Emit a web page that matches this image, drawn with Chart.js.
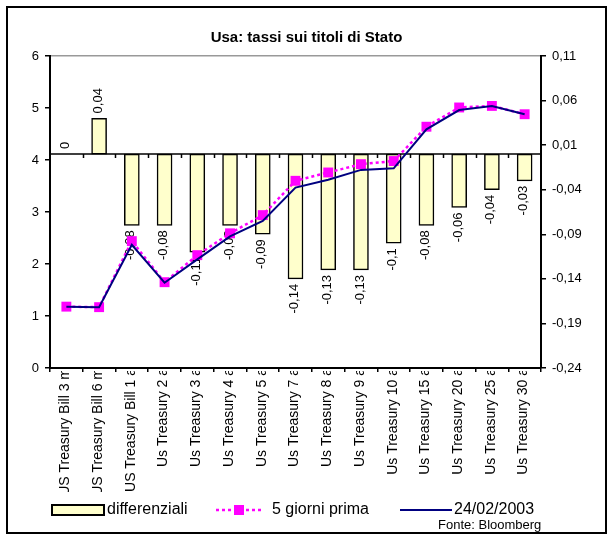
<!DOCTYPE html>
<html>
<head>
<meta charset="utf-8">
<script src="https://cdn.jsdelivr.net/npm/chart.js@4"></script>
<style>
  html, body { margin: 0; padding: 0; background: #ffffff; }
  canvas { display: block; }
</style>
</head>
<body>
<canvas id="c" width="613" height="540"></canvas>
<script>
// Titoli di Stato USA: scadenze
const categories = [
  "US Treasury Bill 3 m", "US Treasury Bill 6 m", "US Treasury Bill 1 a",
  "Us Treasury 2 a", "Us Treasury 3 a", "Us Treasury 4 a", "Us Treasury 5 a",
  "Us Treasury 7 a", "Us Treasury 8 a", "Us Treasury 9 a", "Us Treasury 10 a",
  "Us Treasury 15 a", "Us Treasury 20 a", "Us Treasury 25 a", "Us Treasury 30 a"
];
// differenziali (asse destro)
const differenziali = [0, 0.04, -0.08, -0.08, -0.11, -0.08, -0.09, -0.14, -0.13, -0.13, -0.1, -0.08, -0.06, -0.04, -0.03];
// rendimenti 5 giorni prima (asse sinistro)
const cinqueGiorniPrima = [1.18, 1.17, 2.44, 1.65, 2.17, 2.59, 2.94, 3.60, 3.76, 3.92, 3.98, 4.64, 5.01, 5.04, 4.88];
// rendimenti al 24/02/2003 (asse sinistro)
const rendimenti240203 = [1.18, 1.17, 2.37, 1.64, 2.09, 2.53, 2.83, 3.47, 3.62, 3.81, 3.84, 4.59, 4.96, 5.04, 4.88];
// tacche degli assi
const leftTicks = { min: 0, max: 6, step: 1 };
const rightTicks = { min: -0.24, max: 0.11, step: 0.05 };

const FONT = "'Liberation Sans', Arial, sans-serif";
const fmt = v => String(Math.round(v * 100) / 100).replace('.', ',');

const decorations = {
  id: 'decorations',
  afterDatasetDraw(chart, args) {
    if (args.index !== 0) return;
    const ctx = chart.ctx;
    const area = chart.chartArea;
    const x = chart.scales.x;
    const y1 = chart.scales.y1;
    const zeroY = y1.getPixelForValue(0);
    ctx.save();
    // etichette dei differenziali, ruotate
    ctx.font = '13px ' + FONT;
    ctx.fillStyle = '#000';
    ctx.textBaseline = 'middle';
    differenziali.forEach((v, i) => {
      const px = x.getPixelForValue(i);
      const py = y1.getPixelForValue(v);
      ctx.save();
      ctx.translate(px - 1, v >= 0 ? py - 5 : py + 5);
      ctx.rotate(-Math.PI / 2);
      ctx.textAlign = v >= 0 ? 'left' : 'right';
      ctx.fillText(fmt(v), 0, 0);
      ctx.restore();
    });
    // asse delle categorie sullo zero dell'asse secondario
    ctx.strokeStyle = '#000';
    ctx.lineWidth = 1.5;
    ctx.beginPath();
    ctx.moveTo(area.left, zeroY);
    ctx.lineTo(area.right, zeroY);
    const n = categories.length;
    const w = (area.right - area.left) / n;
    for (let i = 1; i < n; i++) {
      const tx = Math.round(area.left + i * w) + 0.5;
      ctx.moveTo(tx, zeroY);
      ctx.lineTo(tx, zeroY + 4);
    }
    ctx.stroke();
    ctx.restore();
  },
  afterDraw(chart) {
    const ctx = chart.ctx;
    const area = chart.chartArea;
    const x = chart.scales.x;
    ctx.save();
    // etichette delle scadenze, ruotate e ritagliate
    ctx.save();
    ctx.beginPath();
    ctx.rect(0, area.bottom + 3, chart.width, 121);
    ctx.clip();
    ctx.font = '14px ' + FONT;
    ctx.fillStyle = '#000';
    ctx.textBaseline = 'middle';
    ctx.textAlign = 'right';
    categories.forEach((c, i) => {
      ctx.save();
      ctx.translate(x.getPixelForValue(i) - 1, area.bottom);
      ctx.rotate(-Math.PI / 2);
      ctx.fillText(c, 0, 0);
      ctx.restore();
    });
    ctx.restore();

    // legenda
    const ly = 510;
    ctx.font = '16px ' + FONT;
    ctx.textBaseline = 'middle';
    ctx.textAlign = 'left';
    ctx.fillStyle = '#FFFFCC';
    ctx.fillRect(52, 505, 52, 10);
    ctx.strokeStyle = '#000';
    ctx.lineWidth = 2;
    ctx.strokeRect(52, 505, 52, 10);
    ctx.fillStyle = '#000';
    ctx.fillText('differenziali', 107, ly);

    ctx.strokeStyle = '#FF00FF';
    ctx.lineWidth = 2.5;
    ctx.setLineDash([3, 3]);
    ctx.beginPath();
    ctx.moveTo(216, ly);
    ctx.lineTo(262, ly);
    ctx.stroke();
    ctx.setLineDash([]);
    ctx.fillStyle = '#FF00FF';
    ctx.fillRect(234, ly - 5, 10, 10);
    ctx.fillStyle = '#000';
    ctx.fillText('5 giorni prima', 272, ly);

    ctx.strokeStyle = '#000080';
    ctx.lineWidth = 2;
    ctx.beginPath();
    ctx.moveTo(400, ly);
    ctx.lineTo(452, ly);
    ctx.stroke();
    ctx.fillStyle = '#000';
    ctx.fillText('24/02/2003', 454, ly);

    ctx.font = '13px ' + FONT;
    ctx.fillText('Fonte: Bloomberg', 438, 525);

    // cornice esterna
    ctx.strokeStyle = '#000';
    ctx.lineWidth = 2;
    ctx.strokeRect(7, 7, chart.width - 14, chart.height - 14);
    ctx.restore();
  }
};

new Chart(document.getElementById('c'), {
  data: {
    labels: categories,
    datasets: [
      {
        type: 'bar',
        label: 'differenziali',
        data: differenziali,
        yAxisID: 'y1',
        backgroundColor: '#FFFFCC',
        borderColor: '#000000',
        borderWidth: 1.5,
        borderSkipped: false,
        barThickness: 15,
        order: 2
      },
      {
        type: 'line',
        label: '5 giorni prima',
        data: cinqueGiorniPrima,
        yAxisID: 'y',
        borderColor: '#FF00FF',
        borderWidth: 2.5,
        borderDash: [3, 3],
        pointStyle: 'rect',
        pointRadius: 7,
        pointBackgroundColor: '#FF00FF',
        pointBorderColor: '#FF00FF',
        pointBorderWidth: 0,
        tension: 0,
        fill: false,
        order: 1
      },
      {
        type: 'line',
        label: '24/02/2003',
        data: rendimenti240203,
        yAxisID: 'y',
        borderColor: '#000080',
        borderWidth: 2,
        pointRadius: 0,
        tension: 0,
        fill: false,
        order: 0
      }
    ]
  },
  options: {
    responsive: false,
    animation: false,
    devicePixelRatio: 1,
    layout: { padding: 0 },
    plugins: {
      legend: { display: false },
      tooltip: { enabled: false },
      title: {
        display: true,
        text: 'Usa: tassi sui titoli di Stato',
        color: '#000',
        font: { family: FONT, size: 15, weight: 'bold' },
        padding: { top: 29, bottom: 9 }
      }
    },
    scales: {
      x: {
        offset: true,
        grid: { display: true, offset: true, drawOnChartArea: false, color: '#000', tickLength: 4, lineWidth: 1.5 },
        border: { display: true, color: '#000', width: 2 },
        ticks: { display: false },
        afterFit(scale) { scale.height = 172; }
      },
      y: {
        position: 'left',
        min: leftTicks.min,
        max: leftTicks.max,
        ticks: { stepSize: leftTicks.step, color: '#000', font: { family: FONT, size: 13 }, padding: 6 },
        grid: {
          color: ctx => (ctx.tick && ctx.tick.value === leftTicks.max ? '#999999' : 'rgba(0,0,0,0)'),
          tickColor: '#000',
          tickLength: 5,
          lineWidth: 1.5
        },
        border: { display: true, color: '#000', width: 2 },
        afterFit(scale) { scale.width = 50; }
      },
      y1: {
        position: 'right',
        min: rightTicks.min,
        max: rightTicks.max,
        ticks: {
          stepSize: rightTicks.step,
          color: '#000',
          font: { family: FONT, size: 13 },
          padding: 6,
          callback: v => (Math.round(v * 100) / 100).toFixed(2).replace('.', ',')
        },
        grid: { drawOnChartArea: false, color: '#000', tickLength: 5, lineWidth: 1.5 },
        border: { display: true, color: '#000', width: 2 },
        afterFit(scale) { scale.width = 72; }
      }
    }
  },
  plugins: [decorations]
});
</script>
</body>
</html>
